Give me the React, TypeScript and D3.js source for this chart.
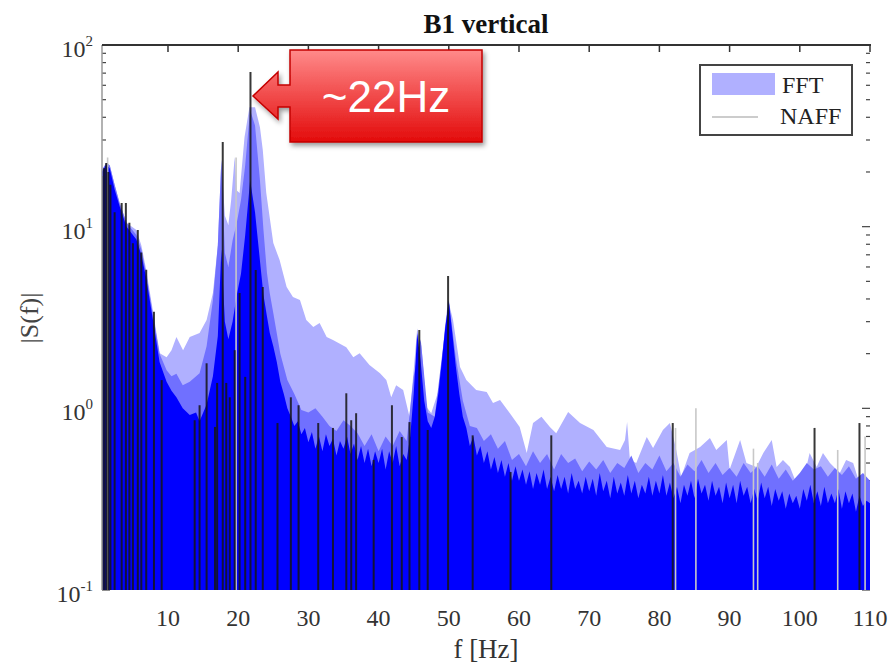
import React from 'react';
import * as d3 from 'd3';

// ---------- data ----------
const xTickValues = [10, 20, 30, 40, 50, 60, 70, 80, 90, 100, 110];
const yTickValues = [0.1, 1, 10, 100];
const yTickExponents = ['-1', '0', '1', '2'];

// light FFT envelope
const lightFreq = [0.6,1.24,1.71,2.4,3.13,4.08,5.5,6.2,6.9,7.9,8.83,9.8,10.5,11.2,12.15,13.1,14.5,15.5,16.4,17.1,17.6,18.1,18.6,19.0,19.5,19.8,20.2,20.9,21.6,22.4,23.1,23.5,24.0,25.0,25.9,26.9,27.8,28.8,29.7,30.7,31.6,32.6,33.5,35.4,36.4,37.3,38.7,40.2,41.1,41.8,42.5,43.5,44.4,45.0,45.5,46.1,46.8,47.5,48.7,49.4,49.9,50.6,51.6,52.5,53.9,55.4,56.3,57.3,58.7,60.1,61.1,62.0,63.2,64.4,65.3,67.0,68.7,70.6,72.5,74.4,75.1,75.4,75.8,76.7,78.2,79.1,80.5,81.5,82.4,83.1,84.3,85.8,87.2,88.1,89.6,90.0,91.5,92.4,93.8,94.8,96.0,96.7,97.6,98.6,99.5,100.2,101.4,102.4,103.3,104.3,105.7,106.6,107.6,108.5,109.5,110];
const lightAmp = [20.5,22.4,21.8,17,13.5,10.5,9.58,7.9,5.77,3.35,2.01,1.91,2.09,2.47,2.09,2.47,2.6,3.06,4.31,7.9,23.3,11.5,10.2,14,24.2,15.8,15.3,31.1,45.5,45.5,35.3,26.5,15.3,8.13,6.55,4.65,4.10,3.95,3.06,2.80,2.95,2.47,2.38,2.17,1.91,2.01,1.73,1.56,1.43,1.15,1.34,1.26,0.90,1.62,2.75,2.2,1.02,0.94,1.31,2.70,3.95,3.06,1.69,1.43,1.26,1.23,1.07,1.11,0.94,0.79,0.568,0.83,0.90,0.79,0.73,0.955,0.83,0.76,0.612,0.59,0.67,0.84,0.52,0.50,0.695,0.605,0.76,0.83,0.59,0.42,0.568,0.612,0.687,0.59,0.67,0.46,0.67,0.50,0.475,0.568,0.67,0.475,0.52,0.475,0.388,0.355,0.568,0.475,0.568,0.50,0.44,0.52,0.50,0.388,0.355,0.313];

// medium FFT layer
const mediumFreq = [0.6,1.2,1.7,2.4,3.1,4.1,5.5,6.2,6.9,7.9,8.8,9.8,10.5,11.2,12.1,13.1,14.5,15.5,16.4,17.1,17.6,18.1,18.6,19.2,19.8,20.4,21.0,21.7,22.4,23.1,23.6,24.1,24.5,
  25,26,27,28,29,30,31,32,33,34,35,36,37,38,39,40,41,42,43,44,45,46,47,48,49,50,51,52,53,54,55,56,57,58,59,60,61,62,63,64,65,66,67,68,69,70,71,72,73,74,75,76,77,78,79,80,81,82,83,84,85,86,87,88,89,90,91,92,93,94,95,96,97,98,99,100,101,102,103,104,105,106,107,108,109,110];
const mediumAmp = [20.5,22.4,21.8,17,13.5,10.5,9.0,7.5,5.5,3.2,2.0,1.62,1.5,1.55,1.34,1.4,1.56,2.2,3.95,7.9,23.3,7.16,6.0,8.4,10.5,14,21.8,43.9,36,18,9.58,5.55,4.3,
  3.35,2.0,1.43,1.2,0.98,0.95,1.0,0.9,0.8,0.75,
  0.86,0.8,0.73,0.62,0.72,0.58,0.7,0.62,0.75,0.66,
  1.5,2.4,0.95,0.9,1.9,3.95,1.9,1.1,0.8,0.78,
  0.66,0.72,0.6,0.66,0.52,0.56,0.48,0.58,0.5,0.56,
  0.46,0.56,0.5,0.53,0.45,0.51,0.46,0.52,0.44,0.5,
  0.47,0.55,0.44,0.5,0.46,0.55,0.45,0.5,0.42,0.49,
  0.45,0.52,0.44,0.5,0.43,0.47,0.42,0.5,0.44,0.48,
  0.42,0.49,0.41,0.46,0.4,0.44,0.5,0.46,0.48,0.42,
  0.47,0.43,0.48,0.41,0.44,0.4];

// dark FFT layer
const darkFreq = [0.6,1.2,1.7,2.4,3.1,4.1,5.5,6.2,6.9,7.9,8.8,9.8,10.5,11.2,12.1,13.1,14.0,14.5,15.5,16.4,17.1,17.6,18.1,18.6,19.2,19.8,20.4,21.0,21.7,22.4,23.1,23.6,24.1,24.5,
  25,25.5,26,26.5,27,27.5,28,28.5,29,29.5,
  30,30.5,31,31.5,32,32.5,33,33.5,34,34.5,
  35,35.5,36,36.5,37,37.5,38,38.5,39,39.5,
  40,40.5,41,41.5,42,42.5,43,43.5,44,44.5,
  45,45.5,46,46.5,47,47.5,48,48.5,49,49.5,
  50,50.5,51,51.5,52,52.5,53,53.5,54,54.5,
  55,55.5,56,56.5,57,57.5,58,58.5,59,59.5,
  60,60.5,61,61.5,62,62.5,63,63.5,64,64.5,
  65,65.5,66,66.5,67,67.5,68,68.5,69,69.5,
  70,70.5,71,71.5,72,72.5,73,73.5,74,74.5,
  75,75.5,76,76.5,77,77.5,78,78.5,79,79.5,
  80,80.5,81,81.5,82,82.5,83,83.5,84,84.5,
  85,85.5,86,86.5,87,87.5,88,88.5,89,89.5,
  90,90.5,91,91.5,92,92.5,93,93.5,94,94.5,
  95,95.5,96,96.5,97,97.5,98,98.5,99,99.5,
  100,100.5,101,101.5,102,102.5,103,103.5,104,104.5,
  105,105.5,106,106.5,107,107.5,108,108.5,109,109.5,110];
const darkAmp = [20,22,21,16,13,10,8.5,7,5.2,3.0,1.8,1.4,1.25,1.15,1.0,0.92,0.95,0.85,1.05,1.5,2.5,7.5,3.0,2.4,3.0,4.2,5.5,9,18,12,6.5,4.2,3.2,2.6,
  2.2,1.8,1.4,1.2,1.0,0.9,0.8,0.85,0.72,0.78,
  0.65,0.74,0.6,0.7,0.58,0.72,0.62,0.68,0.55,0.66,
  0.6,0.7,0.56,0.64,0.52,0.62,0.5,0.6,0.48,0.58,
  0.5,0.6,0.46,0.58,0.5,0.62,0.48,0.56,0.52,0.7,
  1.2,2.6,1.8,1.1,0.85,0.78,0.9,1.2,1.8,2.8,
  3.9,2.6,1.7,1.2,0.9,0.78,0.62,0.7,0.55,0.62,
  0.5,0.58,0.46,0.54,0.44,0.52,0.42,0.5,0.4,0.48,
  0.4,0.46,0.38,0.45,0.36,0.44,0.38,0.46,0.36,0.42,
  0.35,0.43,0.36,0.42,0.34,0.44,0.36,0.4,0.34,0.42,
  0.35,0.41,0.33,0.44,0.35,0.4,0.32,0.42,0.34,0.39,
  0.33,0.43,0.34,0.4,0.32,0.38,0.34,0.42,0.33,0.4,
  0.34,0.43,0.33,0.39,0.32,0.37,0.3,0.38,0.33,0.4,
  0.32,0.41,0.34,0.38,0.31,0.4,0.33,0.37,0.3,0.39,
  0.32,0.38,0.3,0.4,0.33,0.37,0.3,0.36,0.31,0.39,
  0.32,0.37,0.29,0.36,0.31,0.35,0.28,0.34,0.3,0.33,
  0.28,0.36,0.31,0.38,0.3,0.35,0.29,0.37,0.3,0.34,
  0.3,0.36,0.28,0.35,0.3,0.34,0.27,0.33,0.29,0.31,0.3];

// NAFF lines
const naffFreq = [0.6,0.9,1.2,1.5,1.8,2.4,3.4,4.0,4.5,5.0,5.7,6.2,6.9,8.0,9.1,13.8,14.5,15.5,16.7,17.0,17.8,18.3,18.8,19.5,20.2,21.0,21.75,22.5,23.5,25.6,27.5,28.6,31.4,33.5,35.4,36.1,36.8,39.3,41.9,43.3,44.4,45.8,47.0,49.9,53.4,58.8,64.6,81.9,102.1,108.5];
const naffAmp = [19,21,22.4,20,17,12,13.5,13.5,10.5,8.1,9.6,7.2,5.8,3.4,1.43,0.86,1.04,1.77,0.79,1.38,29.2,1.38,1.15,2.09,4.31,1.49,71,5.77,4.65,0.83,1.15,1.04,0.83,0.78,1.21,0.86,0.94,0.52,1.04,0.695,0.84,2.7,0.76,5.35,0.71,0.446,0.71,0.83,0.78,0.83];
const naffFaintFreq = [1.4,19.7,82.3,85.2,93.4,94.0,105.4,109.3];
const naffFaintAmp = [24,24,0.78,1.0,0.6,0.5,0.59,0.7];

const SERIF = '"Liberation Serif", "Times New Roman", serif';
const SANS = '"Liberation Sans", Arial, sans-serif';

export default function App() {
  const L = 102, R = 870, T = 45, B = 590;
  const x = d3.scaleLinear().domain([0.6, 110]).range([L, R]);
  const y = d3.scaleLog().domain([0.1, 100]).range([B, T]);

  const makeArea = (fs: number[], vs: number[]) =>
    d3.area<number>()
      .x((_, i) => x(fs[i]))
      .y0(B)
      .y1((d) => y(d))
      .curve(d3.curveLinear)(vs) || '';

  const yMinor = y.ticks();
  const isMajor = (v: number) => Math.abs(Math.log10(v) - Math.round(Math.log10(v))) < 1e-6;

  const callout = `M482,50 L290,50 L290,85 L278,85 L278,72 L253,96 L278,119 L278,107 L290,107 L290,142 L482,142 Z`;

  return (
    <svg width={892} height={666} style={{ position: 'absolute', left: 0, top: 0, background: '#fff' }}>
      <defs>
        <clipPath id="plotClip">
          <rect x={L} y={T} width={R - L + 1} height={B - T} />
        </clipPath>
        <linearGradient id="redGrad" x1="0" y1="0" x2="0" y2="1">
          <stop offset="0%" stopColor="#ff8a8a" />
          <stop offset="100%" stopColor="#e30b0b" />
        </linearGradient>
        <filter id="shadow" x="-10%" y="-10%" width="130%" height="140%">
          <feDropShadow dx="2" dy="3" stdDeviation="2.5" floodColor="#000" floodOpacity="0.4" />
        </filter>
      </defs>

      {/* title */}
      <text x={486} y={33} textAnchor="middle" fontFamily={SERIF} fontWeight="bold" fontSize={27} fill="#111">
        B1 vertical
      </text>

      {/* y minor/major ticks left and right */}
      {yMinor.map((v, i) => {
        const len = isMajor(v) ? 8 : 4;
        return (
          <g key={'yt' + i} stroke="#444" strokeWidth={1.2}>
            <line x1={L} x2={L + len} y1={y(v)} y2={y(v)} />
            <line x1={R - len} x2={R} y1={y(v)} y2={y(v)} />
          </g>
        );
      })}

      {/* fills */}
      <g clipPath="url(#plotClip)">
        <path d={makeArea(lightFreq, lightAmp)} fill="#b0b0ff" />
        <path d={makeArea(mediumFreq, mediumAmp)} fill="#7070ff" />
        <path d={makeArea(darkFreq, darkAmp)} fill="#0000ff" />
        {naffFaintFreq.map((f, i) => (
          <line key={'nf' + i} x1={x(f)} x2={x(f)} y1={B} y2={y(naffFaintAmp[i])} stroke="#c8c8c8" strokeWidth={1.6} />
        ))}
        {naffFreq.map((f, i) => (
          <line key={'n' + i} x1={x(f)} x2={x(f)} y1={B} y2={y(naffAmp[i])} stroke="#151515" strokeWidth={2} strokeOpacity={0.85} />
        ))}
      </g>

      {/* frame */}
      <line x1={L} x2={L} y1={T} y2={B} stroke="#999" strokeWidth={1.5} />
      <line x1={L} x2={R + 1} y1={T} y2={T} stroke="#333" strokeWidth={2} />
      {xTickValues.map((v) => (
        <line key={'xt' + v} x1={x(v)} x2={x(v)} y1={T} y2={T + 7} stroke="#333" strokeWidth={1.5} />
      ))}

      {/* x tick labels */}
      {xTickValues.map((v) => (
        <text key={'xl' + v} x={x(v)} y={626} textAnchor="middle" fontFamily={SERIF} fontSize={24} fill="#333">
          {v}
        </text>
      ))}

      {/* y tick labels */}
      {yTickValues.map((v, i) => (
        <text key={'yl' + v} x={93} y={y(v) + 12} textAnchor="end" fontFamily={SERIF} fontSize={24} fill="#333">
          10
          <tspan dy={-11} fontSize={15}>{yTickExponents[i]}</tspan>
        </text>
      ))}

      {/* axis labels */}
      <text x={486} y={658} textAnchor="middle" fontFamily={SERIF} fontSize={27} fill="#333">
        f [Hz]
      </text>
      <text transform="translate(38,318) rotate(-90)" textAnchor="middle" fontFamily={SERIF} fontSize={26} fill="#444">
        |S(f)|
      </text>

      {/* legend */}
      <rect x={700} y={65} width={152} height={70} fill="#fff" stroke="#444" strokeWidth={2} />
      <rect x={712} y={73} width={63} height={22} fill="#b0b0ff" />
      <text x={782} y={93} fontFamily={SERIF} fontSize={24} fill="#222">FFT</text>
      <line x1={712} x2={758} y1={117} y2={117} stroke="#bbb" strokeWidth={1.5} />
      <text x={780} y={124} fontFamily={SERIF} fontSize={24} fill="#222">NAFF</text>

      {/* callout */}
      <path d={callout} fill="url(#redGrad)" stroke="#c40000" strokeWidth={1.5} filter="url(#shadow)" />
      <text x={386} y={112} textAnchor="middle" fontFamily={SANS} fontSize={44} fill="#fff">
        ~22Hz
      </text>
    </svg>
  );
}
